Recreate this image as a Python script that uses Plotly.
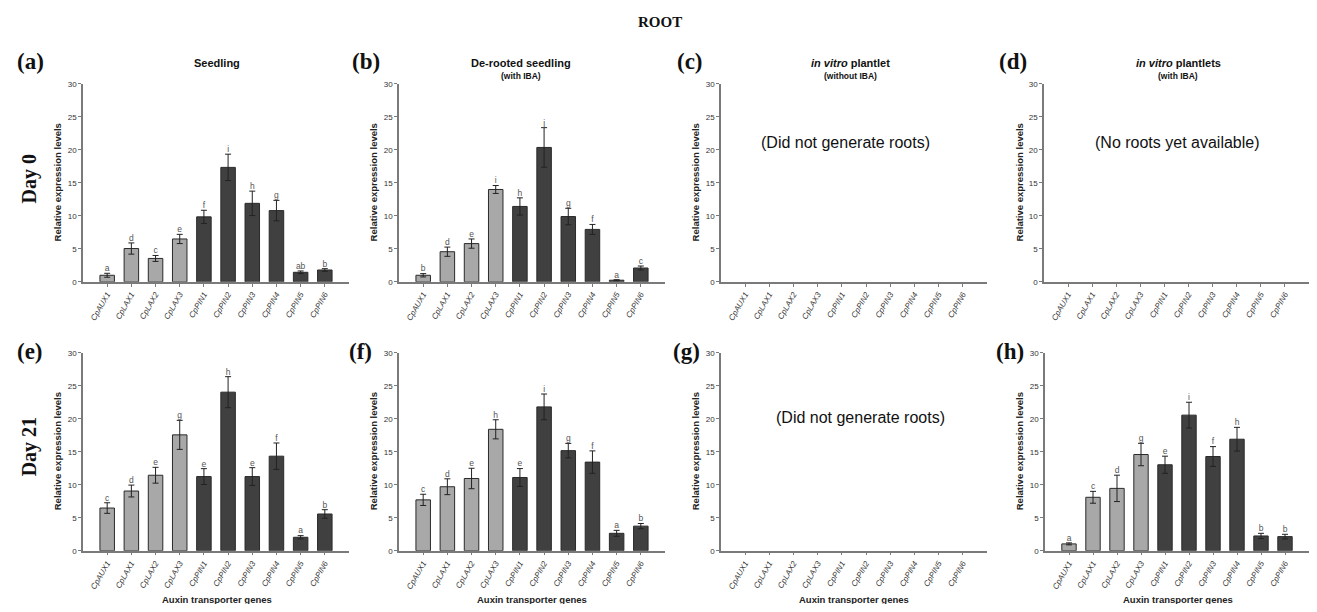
import plotly.graph_objects as go

# page body has an 8px margin; keep the figure inside the 1317x612 window
W, H = 1301, 596
OFF = 8

genes = ["CpAUX1", "CpLAX1", "CpLAX2", "CpLAX3", "CpPIN1",
         "CpPIN2", "CpPIN3", "CpPIN4", "CpPIN5", "CpPIN6"]

# (a) Day 0 seedling
a_vals = [1.0, 5.05, 3.55, 6.5, 9.85, 17.35, 11.9, 10.8, 1.45, 1.8]
a_err = [0.3, 0.85, 0.45, 0.7, 1.0, 2.0, 1.85, 1.55, 0.2, 0.2]
a_let = ["a", "d", "c", "e", "f", "i", "h", "g", "ab", "b"]

# (b) Day 0 de-rooted seedling (with IBA)
b_vals = [1.0, 4.57, 5.8, 14.0, 11.43, 20.37, 9.9, 7.95, 0.25, 2.1]
b_err = [0.25, 0.7, 0.7, 0.6, 1.3, 3.0, 1.25, 0.75, 0.08, 0.3]
b_let = ["b", "d", "e", "i", "h", "j", "g", "f", "a", "c"]

# (e) Day 21 seedling
e_vals = [6.47, 9.05, 11.44, 17.56, 11.24, 24.03, 11.24, 14.33, 2.04, 5.57]
e_err = [0.8, 0.9, 1.2, 2.2, 1.2, 2.35, 1.35, 2.0, 0.25, 0.65]
e_let = ["c", "d", "e", "g", "e", "h", "e", "f", "a", "b"]

# (f) Day 21 de-rooted seedling
f_vals = [7.71, 9.7, 10.95, 18.4, 11.1, 21.8, 15.17, 13.43, 2.64, 3.73]
f_err = [0.85, 1.2, 1.55, 1.45, 1.35, 1.95, 1.1, 1.7, 0.45, 0.4]
f_let = ["c", "d", "e", "h", "e", "i", "g", "f", "a", "b"]

# (h) Day 21 in vitro plantlets (with IBA)
h_vals = [1.04, 8.1, 9.45, 14.58, 13.03, 20.55, 14.28, 16.9, 2.24, 2.14]
h_err = [0.15, 0.9, 2.0, 1.7, 1.3, 1.95, 1.5, 1.8, 0.4, 0.35]
h_let = ["a", "c", "d", "g", "e", "i", "f", "h", "b", "b"]

y_ticks = [0, 5, 10, 15, 20, 25, 30]

LIGHT = "#A8A8A8"
DARK = "#404040"
AXC = "#7a7a7a"
SANS = "Arial, Liberation Sans"
SERIF = "Liberation Serif, Times New Roman"

def px(x):
    return min(1.0, max(0.0, (x - OFF) / W))

def py(y):
    return min(1.0, max(0.0, 1 - (y - OFF) / H))

panels = [
    ("a", 83, 349, 0, a_vals, a_err, a_let),
    ("b", 399, 665, 0, b_vals, b_err, b_let),
    ("c", 721, 987, 0, None, None, None),
    ("d", 1044, 1309, 0, None, None, None),
    ("e", 83, 349, 1, e_vals, e_err, e_let),
    ("f", 399, 665, 1, f_vals, f_err, f_let),
    ("g", 721, 987, 1, None, None, None),
    ("h", 1045, 1309, 1, h_vals, h_err, h_let),
]
rows = [(282, 81), (555, 354)]  # (y of 0, y of 30) in window px

fig = go.Figure()
layout = {}
xs = list(range(len(genes)))
colors = [LIGHT] * 4 + [DARK] * 6

for i, (name, x0, x1, row, vals, err, lets) in enumerate(panels):
    n = i + 1
    xa = "x" if n == 1 else f"x{n}"
    ya = "y" if n == 1 else f"y{n}"
    y0p, y1p = rows[row]
    layout["xaxis" if n == 1 else f"xaxis{n}"] = dict(
        domain=[px(x0), px(x1)], anchor=ya, range=[-1, 10],
        tickvals=xs, ticktext=[f"<i>{g}</i>" for g in genes],
        tickangle=-60, ticks="outside", ticklen=3, tickcolor=AXC,
        showline=True, linecolor=AXC, linewidth=1.5, showgrid=False,
        zeroline=False, tickfont=dict(family=SANS, size=8, color="#333"),
        fixedrange=True,
    )
    layout["yaxis" if n == 1 else f"yaxis{n}"] = dict(
        domain=[py(y0p), py(y1p)], anchor=xa, range=[0, 30],
        tickvals=y_ticks, ticks="outside", ticklen=3, tickcolor=AXC,
        showline=True, linecolor=AXC, linewidth=1.5, showgrid=False,
        zeroline=False, tickfont=dict(family=SANS, size=8, color="#333"),
        fixedrange=True,
    )
    if vals is not None:
        fig.add_trace(go.Bar(
            x=xs, y=vals, xaxis=xa, yaxis=ya, width=0.6,
            marker=dict(color=colors, line=dict(color="#2a2a2a", width=1)),
            error_y=dict(type="data", array=err, color="#222", thickness=1, width=3),
            showlegend=False, hoverinfo="skip",
        ))
        fig.add_trace(go.Scatter(
            x=xs, y=[v + e for v, e in zip(vals, err)], xaxis=xa, yaxis=ya,
            mode="text", text=lets, textposition="top center",
            textfont=dict(family=SANS, size=8.5, color="#555"),
            showlegend=False, hoverinfo="skip",
        ))
    else:
        fig.add_trace(go.Scatter(x=[0], y=[None], xaxis=xa, yaxis=ya, mode="markers",
                                 showlegend=False, hoverinfo="skip"))

ann = []
def add(text, x, y, size, family=SANS, angle=0, color="#111"):
    ann.append(dict(text=text, x=px(x), y=py(y), xref="paper", yref="paper",
                    showarrow=False, textangle=angle, xanchor="center", yanchor="middle",
                    font=dict(family=family, size=size, color=color)))

add("<b>ROOT</b>", 660, 18, 15, SERIF)
for lab, x, y in [("(a)", 30, 58), ("(b)", 366, 58), ("(c)", 690, 58), ("(d)", 1013, 58),
                  ("(e)", 30, 353), ("(f)", 360, 353), ("(g)", 686, 353), ("(h)", 1010, 353)]:
    add(f"<b>{lab}</b>", x, y, 23, SERIF)
add("<b>Day 0</b>", 29, 178, 20, SERIF, angle=-90)
add("<b>Day 21</b>", 29, 450, 20, SERIF, angle=-90)

add("<b>Seedling</b>", 217, 60, 11)
add("<b>De-rooted seedling</b>", 521, 60, 11)
add("<b>(with IBA)</b>", 521, 73, 8.5)
add("<b><i>in vitro</i> plantlet</b>", 850, 60, 11)
add("<b>(without IBA)</b>", 850, 73, 8.5)
add("<b><i>in vitro</i> plantlets</b>", 1178, 60, 11)
add("<b>(with IBA)</b>", 1178, 73, 8.5)

for x in [57, 373, 695, 1019]:
    add("<b>Relative expression levels</b>", x, 181, 9.5, angle=-90, color="#222")
    add("<b>Relative expression levels</b>", x, 454, 9.5, angle=-90, color="#222")

for x in [217, 532, 854, 1178]:
    add("<b>Auxin transporter genes</b>", x, 604, 9.5, color="#222")

add("(Did not generate roots)", 845, 140, 16)
add("(No roots yet available)", 1177, 140, 16)
add("(Did not generate roots)", 860, 420, 16)

fig.update_layout(
    width=W, height=H, margin=dict(l=0, r=0, t=0, b=0),
    paper_bgcolor="white", plot_bgcolor="white",
    annotations=ann, **layout,
)
fig.write_html("out.html")
